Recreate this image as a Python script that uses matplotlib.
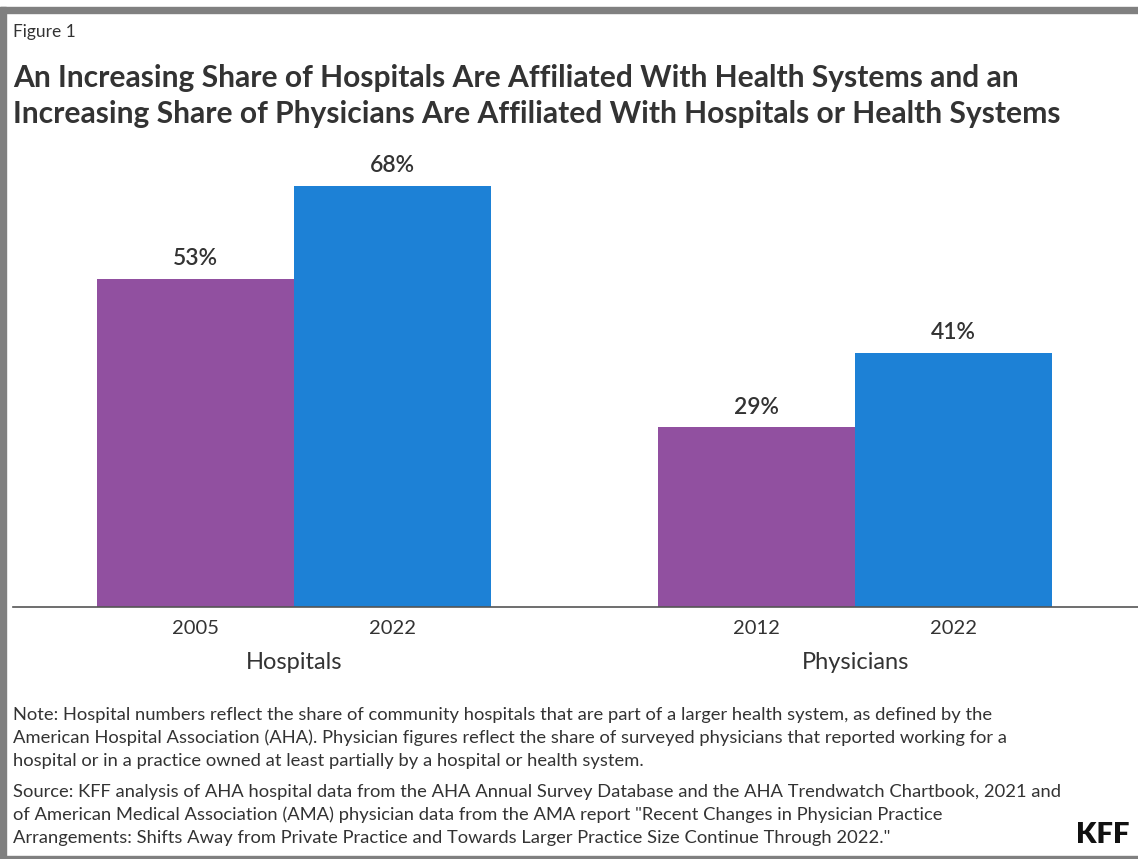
import matplotlib.pyplot as plt
from matplotlib.patches import Rectangle

plt.rcParams['font.family'] = ['Lato', 'DejaVu Sans']

groups = ['Hospitals', 'Physicians']
years_first = ['2005', '2012']
years_second = ['2022', '2022']
share_first = [53, 29]
share_second = [68, 41]

purple = '#9150A0'
blue = '#1D81D6'
text_col = '#333333'

W, H = 1138, 859
fig = plt.figure(figsize=(W / 100, H / 100), dpi=100)

# gray frame (top, left, bottom)
fig.patches.append(Rectangle((0, 1 - 13 / H), 1, 6 / H, transform=fig.transFigure,
                             color='#808080', zorder=0))
fig.patches.append(Rectangle((0, 0), 6 / W, 1 - 7 / H, transform=fig.transFigure,
                             color='#808080', zorder=0))
fig.patches.append(Rectangle((0, 0), 1, 3 / H, transform=fig.transFigure,
                             color='#808080', zorder=0))

ax_bottom = 1 - 607 / H
ax_top = 1 - 150 / H
ax = fig.add_axes([13 / W, ax_bottom, 1 - 13 / W, ax_top - ax_bottom])

w = 0.351
pos = [0, 1]
b1 = ax.bar([p - w / 2 for p in pos], share_first, width=w, color=purple)
b2 = ax.bar([p + w / 2 for p in pos], share_second, width=w, color=blue)

for bars, vals in [(b1, share_first), (b2, share_second)]:
    for rect, v in zip(bars, vals):
        ax.annotate(f'{v}%', (rect.get_x() + rect.get_width() / 2, v),
                    xytext=(0, 7), textcoords='offset points', ha='center',
                    va='bottom', fontsize=16.5, fontweight='semibold', color=text_col)

ax.set_xlim(-0.501, 1.504)
ax.set_ylim(0, 73.8)
ax.set_yticks([])
for s in ['top', 'right', 'left']:
    ax.spines[s].set_visible(False)
ax.spines['bottom'].set_color('#555555')
ax.spines['bottom'].set_linewidth(1.2)

xt = [p - w / 2 for p in pos] + [p + w / 2 for p in pos]
ax.set_xticks(xt)
ax.set_xticklabels(years_first + years_second, fontsize=14.5, color=text_col)
ax.tick_params(axis='x', length=0, pad=9)

for p, g in zip(pos, groups):
    ax.annotate(g, (p, 0), xytext=(0, -40), textcoords='offset points',
                xycoords=('data', 'axes fraction'), ha='center', va='center',
                fontsize=17, color=text_col)

fig.text(13 / W, 1 - 32 / H, 'Figure 1', fontsize=12.5, color=text_col, va='center')
fig.text(13 / W, 1 - 78 / H,
         'An Increasing Share of Hospitals Are Affiliated With Health Systems and an',
         fontsize=21.6, fontweight='bold', color=text_col, va='center')
fig.text(13 / W, 1 - 114 / H,
         'Increasing Share of Physicians Are Affiliated With Hospitals or Health Systems',
         fontsize=21.6, fontweight='bold', color=text_col, va='center')

note = ('Note: Hospital numbers reflect the share of community hospitals that are part of a larger health system, as defined by the\n'
        'American Hospital Association (AHA). Physician figures reflect the share of surveyed physicians that reported working for a\n'
        'hospital or in a practice owned at least partially by a hospital or health system.')
source = ('Source: KFF analysis of AHA hospital data from the AHA Annual Survey Database and the AHA Trendwatch Chartbook, 2021 and\n'
          'of American Medical Association (AMA) physician data from the AMA report "Recent Changes in Physician Practice\n'
          'Arrangements: Shifts Away from Private Practice and Towards Larger Practice Size Continue Through 2022."')
fig.text(13 / W, 1 - 707 / H, note, fontsize=13.2, color=text_col, va='top', linespacing=1.5)
fig.text(13 / W, 1 - 784 / H, source, fontsize=13.2, color=text_col, va='top', linespacing=1.5)
fig.text(1130 / W, 1 - 835 / H, 'KFF', fontsize=21, fontweight='heavy', color='#111111',
         ha='right', va='center')

fig.savefig('out.png', dpi=100)
